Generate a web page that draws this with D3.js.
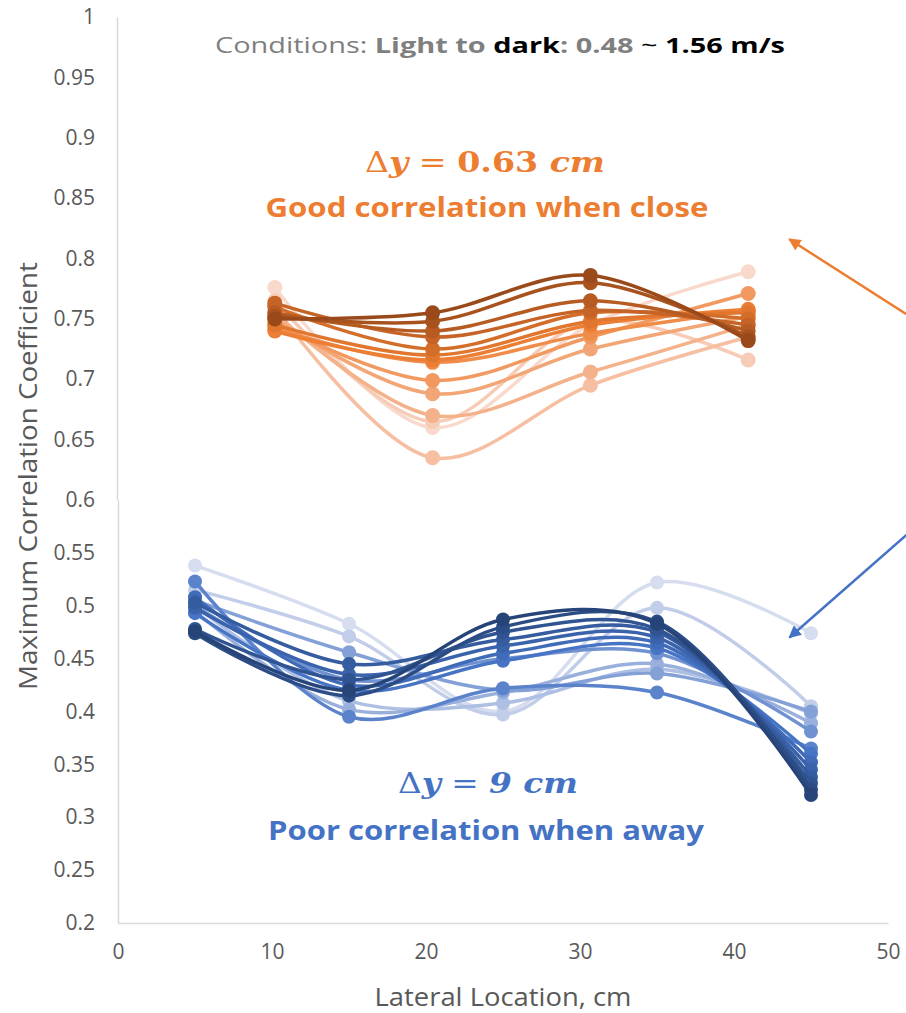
<!DOCTYPE html>
<html>
<head>
<meta charset="utf-8">
<script src="https://cdn.jsdelivr.net/npm/d3@7"></script>
<style>
  body { margin: 0; background: #fff; }
  svg { display: block; }
</style>
</head>
<body>
<svg id="chart" width="906" height="1013"></svg>
<script>
// tick labels
const xTicks = [0, 10, 20, 30, 40, 50];
const yTicksTop = [0.65, 0.7, 0.75, 0.8, 0.85, 0.9, 0.95, 1];
const yTicksBottom = [0.2, 0.25, 0.3, 0.35, 0.4, 0.45, 0.5, 0.55, 0.6];

// close sensor (dy = 0.63 cm), light -> dark
const orangeX = [10, 20, 30, 40];
const orangeSeries = [
    [0.776, 0.660, 0.745, 0.789],
    [0.765, 0.665, 0.748, 0.716],
    [0.760, 0.635, 0.695, 0.735],
    [0.755, 0.670, 0.706, 0.745],
    [0.750, 0.688, 0.725, 0.752],
    [0.746, 0.699, 0.735, 0.771],
    [0.742, 0.714, 0.738, 0.757],
    [0.740, 0.716, 0.745, 0.758],
    [0.745, 0.720, 0.748, 0.755],
    [0.760, 0.725, 0.755, 0.750],
    [0.763, 0.735, 0.757, 0.745],
    [0.755, 0.740, 0.765, 0.740],
    [0.752, 0.748, 0.780, 0.735],
    [0.750, 0.755, 0.786, 0.732]
];

// far sensor (dy = 9 cm), light -> dark
const blueX = [5, 15, 25, 35, 45];
const blueSeries = [
    [0.538, 0.483, 0.400, 0.522, 0.474],
    [0.515, 0.471, 0.397, 0.498, 0.405],
    [0.500, 0.410, 0.408, 0.440, 0.398],
    [0.495, 0.402, 0.418, 0.445, 0.389],
    [0.505, 0.456, 0.420, 0.436, 0.400],
    [0.500, 0.430, 0.450, 0.455, 0.381],
    [0.523, 0.395, 0.422, 0.418, 0.365],
    [0.493, 0.420, 0.448, 0.460, 0.360],
    [0.508, 0.425, 0.455, 0.465, 0.352],
    [0.498, 0.435, 0.462, 0.470, 0.345],
    [0.503, 0.445, 0.468, 0.475, 0.338],
    [0.478, 0.430, 0.475, 0.478, 0.332],
    [0.474, 0.415, 0.480, 0.485, 0.326],
    [0.476, 0.420, 0.487, 0.483, 0.321]
];

const svg = d3.select("#chart");

const AXIS_GREY = "#d9d9d9";
const TEXT_GREY = "#595959";

// the picture is two plots stacked: upper one 0.6..1, lower one 0.2..0.6
const xBottom = d3.scaleLinear().domain([0, 50]).range([118, 888]);
const xTop = d3.scaleLinear().domain([0, 50]).range([117, 906]);
const yTop = d3.scaleLinear().domain([0.6, 1]).range([500, 17]);
const yBottom = d3.scaleLinear().domain([0.2, 0.6]).range([923, 500]);

const fmt = d => String(+d.toFixed(2));

// axes
const axisTop = svg.append("g")
    .attr("transform", "translate(117,0)")
    .call(d3.axisLeft(yTop).tickValues(yTicksTop).tickFormat(fmt).tickSize(0).tickPadding(22));
const axisBottom = svg.append("g")
    .attr("transform", "translate(118,0)")
    .call(d3.axisLeft(yBottom).tickValues(yTicksBottom).tickFormat(fmt).tickSize(0).tickPadding(23));
const axisX = svg.append("g")
    .attr("transform", "translate(0,923)")
    .call(d3.axisBottom(xBottom).tickValues(xTicks).tickSize(0).tickPadding(21));

[axisTop, axisBottom, axisX].forEach(a => {
    a.attr("font-size", 21).attr("font-family", "'Open Sans', sans-serif");
    a.select(".domain").attr("stroke", AXIS_GREY).attr("stroke-width", 1.5);
    a.selectAll("text").attr("fill", TEXT_GREY);
});

// axis titles
svg.append("text")
    .attr("transform", "translate(37,476) rotate(-90)")
    .attr("text-anchor", "middle")
    .attr("fill", TEXT_GREY)
    .attr("font-family", "'Liberation Sans Narrow', 'Open Sans', sans-serif")
    .attr("font-size", 26)
    .attr("textLength", 428)
    .attr("lengthAdjust", "spacingAndGlyphs")
    .text("Maximum Correlation Coefficient");

svg.append("text")
    .attr("x", 503)
    .attr("y", 1006)
    .attr("text-anchor", "middle")
    .attr("fill", TEXT_GREY)
    .attr("font-family", "'Liberation Sans Narrow', 'Open Sans', sans-serif")
    .attr("font-size", 26)
    .attr("textLength", 257)
    .attr("lengthAdjust", "spacingAndGlyphs")
    .text("Lateral Location, cm");

// title with mixed weights
const title = svg.append("text")
    .attr("x", 500)
    .attr("y", 53)
    .attr("text-anchor", "middle")
    .attr("font-family", "'Open Sans', sans-serif")
    .attr("font-size", 22)
    .attr("textLength", 570)
    .attr("lengthAdjust", "spacingAndGlyphs");
[
    ["Conditions: ", "normal", "#7f7f7f"],
    ["Light to ", "bold", "#7f7f7f"],
    ["dark", "bold", "#000"],
    [": 0.48", "bold", "#7f7f7f"],
    [" ~ ", "normal", "#000"],
    ["1.56 m/s", "bold", "#000"]
].forEach(([t, w, c]) => title.append("tspan").attr("font-weight", w).attr("fill", c).text(t));

// series
const curve = d3.curveCatmullRom.alpha(0.5);

function drawGroup(xs, series, xScale, yScale, stops, r) {
    const n = series.length;
    const colour = d3.scaleLinear()
        .domain([0, (n - 1) * 0.55, n - 1])
        .range(stops)
        .interpolate(d3.interpolateRgb);
    const line = d3.line()
        .x((d, i) => xScale(xs[i]))
        .y(d => yScale(d))
        .curve(curve);
    const g = svg.append("g");
    const s = g.selectAll(".series")
        .data(series)
    .enter()
        .append("g")
        .attr("class", "series");
    s.append("path")
        .attr("d", d => line(d))
        .attr("fill", "none")
        .attr("stroke", (d, i) => colour(i))
        .attr("stroke-width", 3.5)
        .attr("stroke-linecap", "round");
    s.each(function (d, i) {
        d3.select(this).selectAll("circle")
            .data(d)
            .enter()
            .append("circle")
            .attr("cx", (v, j) => xScale(xs[j]))
            .attr("cy", v => yScale(v))
            .attr("r", r)
            .attr("fill", colour(i));
    });
}

drawGroup(orangeX, orangeSeries, xTop, yTop, ["#f9d9cc", "#ed7d31", "#9a4a1a"], 7.5);
drawGroup(blueX, blueSeries, xBottom, yBottom, ["#d6ddef", "#4472c4", "#264478"], 7);

// annotations
const ORANGE = "#ed7d31";
const BLUE = "#4472c4";

const mathFont = "'DejaVu Serif', 'Liberation Serif', serif";
const textFont = "'Open Sans', sans-serif";

// math-style label: [text, italic, bold]
function mathLabel(x, y, parts, colour, len) {
    const t = svg.append("text")
        .attr("x", x)
        .attr("y", y)
        .attr("text-anchor", "middle")
        .attr("fill", colour)
        .attr("font-family", mathFont)
        .attr("font-size", 28)
        .attr("textLength", len)
        .attr("lengthAdjust", "spacingAndGlyphs");
    parts.forEach(([txt, it, b]) => t.append("tspan")
        .attr("font-style", it ? "italic" : "normal")
        .attr("font-weight", b ? "bold" : "normal")
        .text(txt));
}

function label(x, y, txt, colour, len) {
    svg.append("text")
        .attr("x", x)
        .attr("y", y)
        .attr("text-anchor", "middle")
        .attr("fill", colour)
        .attr("font-family", textFont)
        .attr("font-size", 26)
        .attr("font-weight", "bold")
        .attr("textLength", len)
        .attr("lengthAdjust", "spacingAndGlyphs")
        .text(txt);
}

mathLabel(485, 172, [["\u0394", false, false], ["y", true, true], [" = ", false, false], ["0.63 ", false, true], ["cm", true, true]], ORANGE, 240);
label(487, 217, "Good correlation when close", ORANGE, 443);
mathLabel(488, 793, [["\u0394", false, false], ["y", true, true], [" = ", false, false], ["9 ", true, true], ["cm", true, true]], BLUE, 180);
label(486, 840, "Poor correlation when away", BLUE, 436);

// arrows
const defs = svg.append("defs");
[["headOrange", ORANGE], ["headBlue", BLUE]].forEach(([id, c]) => {
    defs.append("marker")
        .attr("id", id)
        .attr("viewBox", "0 0 10 10")
        .attr("refX", 9)
        .attr("refY", 5)
        .attr("markerWidth", 5)
        .attr("markerHeight", 5)
        .attr("orient", "auto")
        .attr("markerUnits", "strokeWidth")
        .append("path")
        .attr("d", "M0,0L10,5L0,10z")
        .attr("fill", c);
});

svg.append("line")
    .attr("x1", xTop(50)).attr("y1", yTop(0.754))
    .attr("x2", xTop(42.6)).attr("y2", yTop(0.816))
    .attr("stroke", ORANGE).attr("stroke-width", 2.5)
    .attr("marker-end", "url(#headOrange)");

svg.append("line")
    .attr("x1", xBottom(51.2)).attr("y1", yBottom(0.567))
    .attr("x2", xBottom(43.6)).attr("y2", yBottom(0.470))
    .attr("stroke", BLUE).attr("stroke-width", 2.5)
    .attr("marker-end", "url(#headBlue)");
</script>
</body>
</html>
